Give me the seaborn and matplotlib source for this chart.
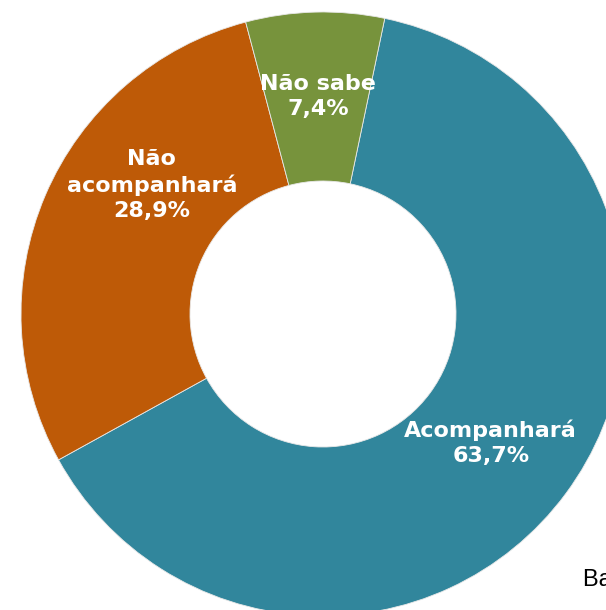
import numpy as np
import matplotlib
matplotlib.use("Agg")
import matplotlib.pyplot as plt
import seaborn as sns

# dados
categorias = ["Acompanhará", "Não\nacompanhará", "Não sabe"]
valores = [63.7, 28.9, 7.4]
rotulos = ["63,7%", "28,9%", "7,4%"]
cores = ["#31869C", "#BE5A07", "#77933C"]

sns.set_theme(style="white")
plt.rcParams['font.family'] = ['DejaVu Sans']

fig = plt.figure(figsize=(6.06, 6.10), dpi=100)
# centro do anel em (323, 314) px, raio 302 px
cx, cy, r = 323, 314, 302
W, H = 606, 610
ax = fig.add_axes([(cx - r) / W, (H - cy - r) / H, 2 * r / W, 2 * r / H])

wedges, _ = ax.pie(valores, colors=cores, startangle=78.2, counterclock=False,
                   radius=1.0, wedgeprops=dict(width=1 - 133 / 302, edgecolor="#e8e8e8", linewidth=0.6))
ax.set_xlim(-1, 1)
ax.set_ylim(-1, 1)
ax.axis("off")

# posição dos rótulos (ângulo em graus, raio relativo)
pos_rotulos = [(-37.5, 0.70), (143.0, 0.71), (91.3, 0.72)]
for cat, rot, (ang, dist) in zip(categorias, rotulos, pos_rotulos):
    a = np.deg2rad(ang)
    ax.text(dist * np.cos(a), dist * np.sin(a), f"{cat}\n{rot}", ha="center", va="center",
            color="white", fontsize=16, fontweight="bold", linespacing=1.3)

fig.text(583 / W, 1 - 580 / H, "Base: total da amostra", ha="left", va="center",
         fontsize=17, color="black", family="Liberation Sans")

fig.savefig("out.png", dpi=100)
